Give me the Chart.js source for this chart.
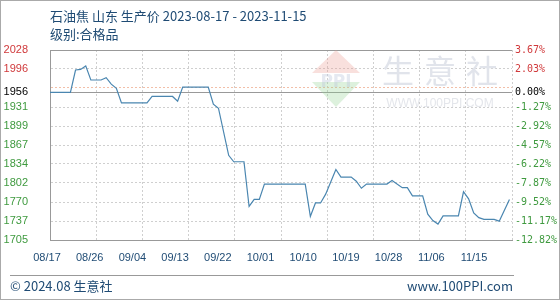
<!DOCTYPE html>
<html>
<head>
<meta charset="utf-8">
<script src="https://cdn.jsdelivr.net/npm/chart.js@4.4.0/dist/chart.umd.min.js"></script>
<style>
  body { margin: 0; background: #fff; }
  #wrap { width: 560px; height: 300px; position: relative; }
</style>
</head>
<body>
<div id="wrap"><canvas id="chart"></canvas></div>
<script>
// price vertices (MM-DD, 2023)
const dates = ['08-17','08-21','08-22','08-23','08-24','08-25','08-27','08-28','08-29','08-30','08-31',
  '09-05','09-06','09-10','09-11','09-12','09-17','09-18','09-19','09-21','09-22','09-24','09-25','09-26','09-27','09-28',
  '10-06','10-07','10-08','10-09','10-10','10-12','10-13','10-15','10-16','10-17','10-18','10-22','10-23','10-25','10-26','10-27','10-29','10-30','10-31',
  '11-01','11-02','11-05','11-06','11-07','11-08','11-09','11-10','11-12','11-13','11-15'];
const prices = [1956,1956,1994,1995,2001,1977,1977,1981,1970,1963,1938,
  1938,1949,1949,1941,1965,1965,1936,1929,1849,1838,1838,1762,1774,1774,1800,
  1800,1745,1768,1768,1783,1825,1812,1812,1805,1793,1800,1800,1806,1794,1794,1780,1780,1749,1738,
  1732,1746,1746,1787,1775,1751,1743,1740,1740,1737,1774];

const xLabels = ['08/17','08/26','09/04','09/13','09/22','10/01','10/10','10/19','10/28','11/06','11/15'];
const leftLabels = ['1705','1737','1770','1802','1834','1867','1899','1931','','1996','2028'];
const rightLabels = ['-12.82%','-11.17%','-9.52%','-7.87%','-6.22%','-4.57%','-2.92%','-1.27%','','2.03%','3.67%'];
const yMin = 1705, yMax = 2028;
const basePrice = 1956;
const baseLeft = '1956', baseRight = '0.00%';

const RED = '#d0393b', GREEN = '#3f9a3f', BLUE_TXT = '#1f4b74';

function dayOffset(md) {
  const [m, d] = md.split('-').map(Number);
  return (Date.UTC(2023, m - 1, d) - Date.UTC(2023, 7, 17)) / 86400000;
}
const points = dates.map((d, i) => ({ x: dayOffset(d), y: prices[i] }));

const yStep = (yMax - yMin) / 10;
const yTickValues = leftLabels.map((_, i) => yMin + yStep * i);
const xMax = 90.5;

function yTicks(scale) {
  scale.ticks = yTickValues.map(v => ({ value: v })).concat([{ value: basePrice }]);
}
function labelColor(ctx) {
  if (ctx.index === 11) return '#000';
  return ctx.tick && ctx.tick.value > basePrice ? RED : GREEN;
}

const decor = {
  id: 'decor',
  beforeDatasetsDraw(chart) {
    const c = chart.ctx;
    c.save();
    // watermark logo
    c.fillStyle = 'rgba(236,160,150,0.32)';
    c.beginPath(); c.moveTo(312, 73); c.lineTo(336, 50); c.lineTo(360, 73); c.closePath(); c.fill();
    c.fillStyle = 'rgba(150,210,150,0.32)';
    c.beginPath(); c.moveTo(312, 82); c.lineTo(336, 107); c.lineTo(360, 82); c.closePath(); c.fill();
    c.fillStyle = 'rgba(190,200,220,0.4)';
    c.font = 'bold 17px "DejaVu Sans"';
    c.textAlign = 'center'; c.textBaseline = 'middle';
    c.fillText('PPI', 336, 83);
    c.fillStyle = '#e1e4eb';
    c.font = '32px "Noto Sans CJK SC"';
    ['生', '意', '社'].forEach((ch, i) => c.fillText(ch, 398 + i * 42, 71));
    c.fillStyle = '#e4e6eb';
    c.font = '12px "Liberation Sans"';
    c.fillText('WWW.100PPI.COM', 440, 104);
    c.restore();
  },
  afterDraw(chart) {
    const c = chart.ctx;
    c.save();
    c.fillStyle = BLUE_TXT;
    c.textBaseline = 'middle';
    c.font = '13px "Noto Sans CJK SC"';
    c.textAlign = 'left';
    c.fillText('石油焦 山东 生产价 2023-08-17 - 2023-11-15', 50, 16);
    c.fillText('级别:合格品', 50, 34);
    c.strokeStyle = '#999';
    c.lineWidth = 1;
    c.beginPath(); c.moveTo(10, 275.5); c.lineTo(514, 275.5); c.stroke();
    c.fillText('© 2024.08 生意社', 10, 286);
    c.textAlign = 'right';
    c.fillText('www.100PPI.com', 513, 286);
    c.strokeStyle = '#aaa';
    c.strokeRect(0.5, 0.5, 559, 299);
    c.restore();
  }
};

new Chart(document.getElementById('chart'), {
  type: 'line',
  data: {
    datasets: [{
      data: points,
      borderColor: '#4a86b0',
      borderWidth: 1.2,
      pointRadius: 0,
      tension: 0,
      xAxisID: 'x',
      yAxisID: 'y'
    }]
  },
  options: {
    responsive: true,
    maintainAspectRatio: false,
    animation: false,
    layout: { padding: { top: 50, left: 0, right: 0, bottom: 0 } },
    plugins: { legend: { display: false }, tooltip: { enabled: false } },
    scales: {
      x: {
        type: 'linear',
        min: 0, max: xMax,
        afterBuildTicks: s => { s.ticks = Array.from({ length: 11 }, (_, i) => ({ value: xMax / 10 * i })); },
        afterFit: s => { s.height = 0; },
        ticks: { display: false },
        grid: { color: '#cfcfcf', drawTicks: false },
        border: { color: '#999', dash: ctx => (ctx.tick ? [2, 2] : []) }
      },
      xl: {
        type: 'linear',
        position: 'bottom',
        min: 0, max: 10.82,
        afterBuildTicks: s => { s.ticks = xLabels.map((_, i) => ({ value: i })); },
        afterFit: s => { s.height = 60; },
        grid: { display: false, drawTicks: false },
        border: { display: false },
        ticks: {
          autoSkip: false, maxRotation: 0, padding: 11,
          labelOffset: -3,
          color: BLUE_TXT,
          font: { family: 'Liberation Sans', size: 11 },
          callback: (v, i) => xLabels[i]
        }
      },
      y: {
        position: 'left',
        min: yMin, max: yMax,
        afterBuildTicks: yTicks,
        afterFit: s => { s.width = 50; },
        grid: {
          drawTicks: false,
          color: ctx => {
            if (ctx.index === 11 || ctx.index === 10) return '#999';
            if (ctx.index === 8) return '#f2bfa8';
            return '#cfcfcf';
          }
        },
        border: {
          color: '#999',
          dash: ctx => (ctx.tick && ctx.index !== 11 && ctx.index !== 10 ? [2, 2] : [])
        },
        ticks: {
          padding: 22,
          color: labelColor,
          font: { family: 'Liberation Sans', size: 11 },
          callback: (v, i) => (i < 11 ? leftLabels[i] : baseLeft)
        }
      },
      y2: {
        position: 'right',
        min: yMin, max: yMax,
        afterBuildTicks: yTicks,
        afterFit: s => { s.width = 48; },
        grid: { drawOnChartArea: false, drawTicks: false },
        border: { display: false },
        ticks: {
          padding: 3,
          color: labelColor,
          font: { family: 'DejaVu Sans Mono', size: 10 },
          callback: (v, i) => (i < 11 ? rightLabels[i] : baseRight)
        }
      }
    }
  },
  plugins: [decor]
});
</script>
</body>
</html>
